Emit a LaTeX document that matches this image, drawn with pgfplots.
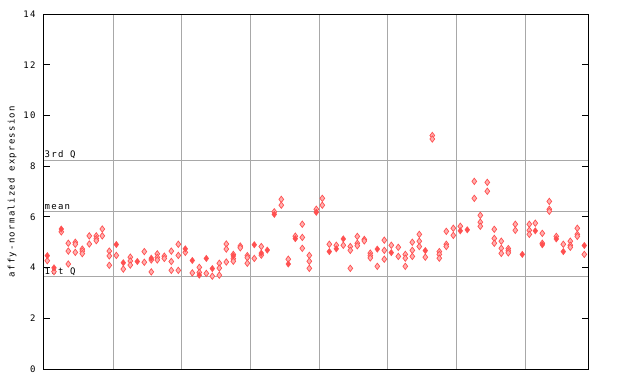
\documentclass[border=0pt]{standalone}
\usepackage{fontspec}
\setmainfont{DejaVu Sans Mono}[LetterSpace=14]
\usepackage{pgfplots}
\pgfplotsset{compat=1.18}
\definecolor{myred}{RGB}{255,80,80}
\definecolor{gridgray}{RGB}{168,168,168}
\begin{document}
\begin{tikzpicture}[x=1pt,y=1pt]
\path[use as bounding box] (-44pt,-15pt) rectangle (596pt,369pt);
\begin{axis}[
  at={(0,0)}, anchor=south west, scale only axis,
  width=544pt, height=355pt,
  xmin=44, xmax=588, ymin=0, ymax=14,
  ytick={0,2,...,14},
  xtick={113,181.7,250.4,319.1,387.8,456.5,525.2},
  xticklabels={},
  xmajorgrids,
  major grid style={gridgray, line width=1pt},
  x tick style={draw=none},
  tick align=inside,
  ytick pos=both, yticklabel pos=left,
  major tick length=6pt,
  y tick style={black, line width=0.8pt},
  axis line style={black, line width=1pt},
  /pgf/number format/assume math mode=true,
  tick label style={font=\fontsize{9}{10}\selectfont},
  yticklabel style={xshift=-5pt},
  ylabel={affy-normalized expression},
  ylabel style={at={(axis description cs:-0.0588,0.5)}, anchor=center, font=\fontsize{9}{10}\selectfont},
  extra y ticks={3.63,6.22,8.24},
  extra y tick labels={},
  extra y tick style={grid=major, major tick length=0pt},
  clip=false,
]
\addplot[only marks, mark=diamond*, mark size=3.2pt, mark options={draw=myred, fill=myred!45, line width=0.7pt}] table {
x y
47.3 4.27
54 3.84
61.3 5.41
68.3 4.96
68.3 4.65
68.3 4.14
75.3 5.00
75.3 4.92
75.3 4.60
82.3 4.73
82.3 4.65
82.3 4.55
89.3 5.25
89.3 4.93
96.3 5.25
96.3 5.14
96.3 5.06
102.3 5.52
102.3 5.25
109.3 4.65
109.3 4.46
109.3 4.09
116.3 4.48
123.3 3.94
130.3 4.41
130.3 4.26
130.3 4.10
144.3 4.63
144.3 4.21
151.3 4.30
151.3 3.83
157.3 4.54
157.3 4.40
157.3 4.30
164.3 4.45
164.3 4.36
171.3 4.65
171.3 4.24
171.3 3.89
178.3 4.92
178.3 4.48
178.3 3.89
185.3 4.60
192.3 3.79
199.3 4.01
199.3 3.81
206.3 3.77
212.3 3.66
219.3 4.17
219.3 3.98
219.3 3.70
226.3 4.93
226.3 4.73
226.3 4.22
233.3 4.52
233.3 4.35
233.3 4.25
240.3 4.85
240.3 4.78
247.3 4.47
247.3 4.39
247.3 4.17
254.3 4.36
261.3 4.83
261.3 4.49
274.3 6.20
281.3 6.69
281.3 6.46
288.3 4.33
295.3 5.24
302.3 5.71
302.3 5.19
302.3 4.76
309.3 4.48
309.3 4.25
309.3 3.97
316.3 6.30
322.3 6.73
322.3 6.46
329.3 4.92
336.3 4.88
343.3 4.88
350.3 4.83
350.3 4.68
350.3 3.97
357.3 5.23
357.3 4.96
357.3 4.86
364.3 5.11
364.3 5.05
370.3 4.57
370.3 4.47
370.3 4.38
377.3 4.05
384.3 5.08
384.3 4.68
384.3 4.33
391.3 4.88
398.3 4.80
398.3 4.44
405.3 4.52
405.3 4.37
405.3 4.05
412.3 5.00
412.3 4.68
412.3 4.44
419.3 5.31
419.3 5.04
419.3 4.83
425.3 4.41
432.3 9.21
432.3 9.07
439.3 4.63
439.3 4.52
439.3 4.37
446.3 5.43
446.3 4.92
446.3 4.83
453.3 5.55
453.3 5.27
460.3 5.63
474.3 7.40
474.3 6.73
480.3 6.06
480.3 5.79
480.3 5.63
487.3 7.36
487.3 7.01
494.3 5.51
494.3 5.15
494.3 4.96
501.3 5.04
501.3 4.76
501.3 4.56
508.3 4.75
508.3 4.66
508.3 4.58
515.3 5.71
515.3 5.47
529.3 5.71
529.3 5.47
529.3 5.31
535.3 5.75
542.3 5.35
542.3 4.96
549.3 6.61
549.3 6.30
549.3 6.22
556.3 5.23
563.3 4.92
570.3 5.04
570.3 4.88
570.3 4.80
577.3 5.55
577.3 5.31
577.3 5.23
584.3 4.52
};
\addplot[only marks, mark=diamond*, mark size=3.2pt, mark options={draw=myred, fill=myred}] table {
x y
47.3 4.47
54 3.99
61.3 5.52
116.3 4.91
123.3 4.19
137.3 4.24
151.3 4.37
185.3 4.74
192.3 4.28
199.3 3.70
206.3 4.36
212.3 3.96
233.3 4.46
254.3 4.90
261.3 4.57
267.3 4.69
274.3 6.10
288.3 4.14
295.3 5.14
316.3 6.18
329.3 4.63
336.3 4.74
343.3 5.13
377.3 4.73
391.3 4.59
425.3 4.67
460.3 5.45
467.3 5.49
522.3 4.52
535.3 5.45
542.3 4.90
556.3 5.13
563.3 4.63
584.3 4.87
};
\node[anchor=south west, inner xsep=0.5pt, inner ysep=1pt, font=\fontsize{9}{10}\selectfont] at (axis cs:44,8.24) {3rd Q};
\node[anchor=south west, inner xsep=0.5pt, inner ysep=1pt, font=\fontsize{9}{10}\selectfont] at (axis cs:44,6.22) {mean};
\node[anchor=south west, inner xsep=0.5pt, inner ysep=1pt, font=\fontsize{9}{10}\selectfont] at (axis cs:44,3.63) {1st Q};
\end{axis}
\end{tikzpicture}
\end{document}
